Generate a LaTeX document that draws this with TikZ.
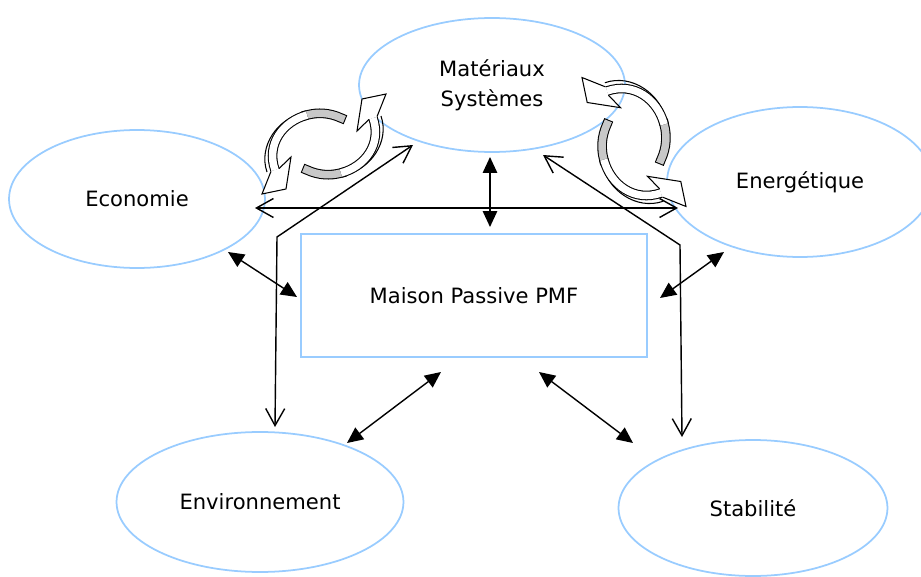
\documentclass[tikz,border=0pt]{standalone}
\usepackage{fontspec}
\setmainfont{DejaVu Sans}
\usetikzlibrary{arrows.meta,shapes.geometric,positioning}
\definecolor{bleuclair}{RGB}{153,204,255}
\definecolor{grisclair}{RGB}{200,200,200}

\begin{document}
\begin{tikzpicture}[x=0.02cm, y=0.02cm]

	\tikzstyle{bulle}=[ellipse, draw=bleuclair, line width=1pt, inner sep=0pt, align=center, font=\fontsize{12}{17}\selectfont]
	\tikzstyle{boite}=[rectangle, draw=bleuclair, line width=1pt, minimum width=6.92cm, minimum height=2.46cm, font=\fontsize{12}{17}\selectfont]
	\tikzstyle{plein}=[{Triangle[length=3.2mm, width=2.9mm]}-{Triangle[length=3.2mm, width=2.9mm]}, line width=0.8pt]
	\tikzstyle{ouvert}=[{Straight Barb[length=3.4mm, width=3.8mm]}-{Straight Barb[length=3.4mm, width=3.8mm]}, line width=0.8pt]
	\tikzstyle{ruban}=[line width=0.6pt, double distance=0.15cm]
	\tikzstyle{pointe}=[line width=0.6pt, fill=white, line join=miter]

	\useasboundingbox (0,0) rectangle (921,576);

	\node[bulle, minimum width=5.32cm, minimum height=2.68cm] (mat) at (492,491) {Matériaux\\Systèmes}; % HAUT
	\node[bulle, minimum width=5.12cm, minimum height=2.76cm] (eco) at (137,377) {Economie}; % GAUCHE
	\node[bulle, minimum width=5.32cm, minimum height=3.0cm] (ene) at (800,394) {Energétique}; % DROITE
	\node[bulle, minimum width=5.74cm, minimum height=2.8cm] (env) at (260,74) {Environnement}; % BAS
	\node[bulle, minimum width=5.38cm, minimum height=2.72cm] (sta) at (753,68) {Stabilité}; % BAS
	\node[boite] (pmf) at (474,280.5) {Maison Passive PMF}; % CENTRE

	\coordinate (h_g) at (255,368);
	\coordinate (h_d) at (678,368);
	\coordinate (v_h) at (490,419);
	\coordinate (v_b) at (490,349);
	\coordinate (eco_a) at (228,324);
	\coordinate (eco_b) at (297,279);
	\coordinate (ene_a) at (724,324);
	\coordinate (ene_b) at (660,278);
	\coordinate (env_a) at (441,204);
	\coordinate (env_b) at (347,133);
	\coordinate (sta_a) at (539,204);
	\coordinate (sta_b) at (633,133);
	\coordinate (g_h) at (413,431);
	\coordinate (g_c) at (277,339);
	\coordinate (g_b) at (275,149);
	\coordinate (d_h) at (543,421);
	\coordinate (d_c) at (680,331);
	\coordinate (d_b) at (682,139);

	\draw[ouvert] (h_g) -- (h_d);
	\draw[plein] (v_h) -- (v_b);
	\draw[plein] (eco_a) -- (eco_b);
	\draw[plein] (ene_a) -- (ene_b);
	\draw[plein] (env_a) -- (env_b);
	\draw[plein] (sta_a) -- (sta_b);
	\draw[ouvert] (g_h) -- (g_c) -- (g_b);
	\draw[ouvert] (d_h) -- (d_c) -- (d_b);

	% fleches circulaires
	\foreach \cx/\cy/\rot/\sc in {324/432/0/1, 634/434/-90/1.04} {
		\foreach \r in {0,180} {
			\begin{scope}[shift={(\cx,\cy)}, rotate=\rot+\r, scale=\sc]
				\draw[line width=0.6pt] (-20,31) .. controls (-46,26) and (-66,-2) .. (-57,-28);
				\draw[ruban, double=grisclair, line cap=rect] (17,26) .. controls (5.3,31.4) and (-6.5,31.8) .. (-16.9,29);
				\draw[ruban, double=white] (-16.9,29) .. controls (-41.1,22.6) and (-58,0) .. (-49,-26);
				\draw[pointe] (-45,-24.6) -- (-33,-13) -- (-38,-45) -- (-62,-50) -- (-53,-27.4);
			\end{scope}
		}
	}

\end{tikzpicture}
\end{document}
